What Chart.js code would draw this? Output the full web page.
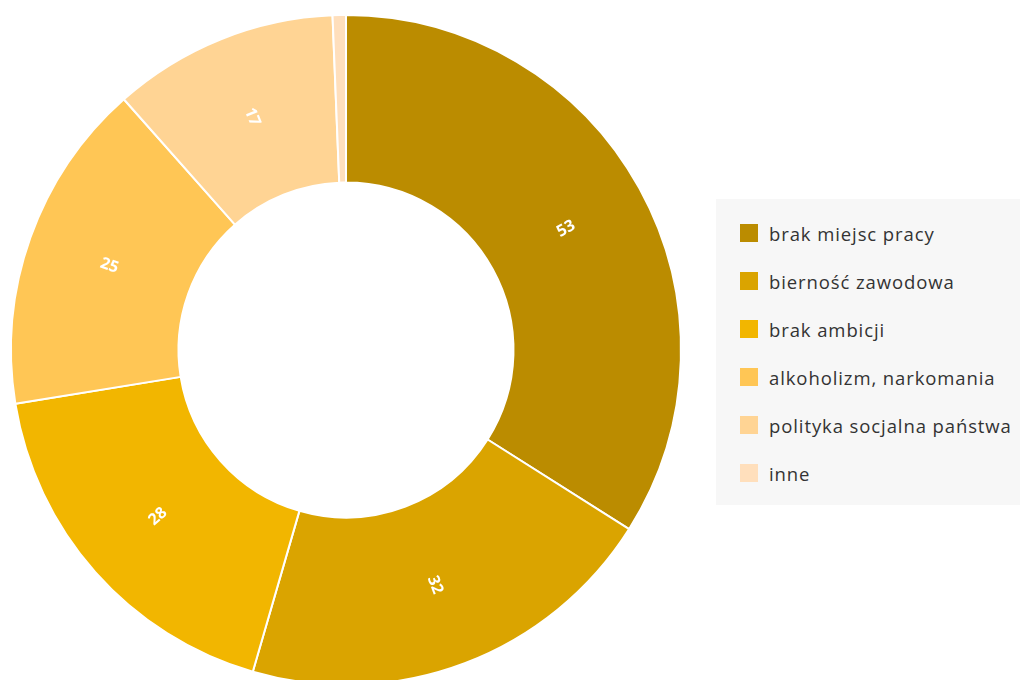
<!DOCTYPE html>
<html>
<head>
<meta charset="utf-8">
<script src="https://cdn.jsdelivr.net/npm/chart.js@4"></script>
<style>
    body { margin: 0; width: 1020px; height: 680px; overflow: hidden; background: #fff; font-family: "Open Sans", sans-serif; position: relative; }
    #chartBox { position: absolute; left: 0; top: 0; width: 692px; height: 700px; }
    #legend { position: absolute; left: 716px; top: 199px; width: 304px; height: 306px; background: #f7f7f7; box-sizing: border-box; padding-top: 16px; }
    .item { display: flex; align-items: center; height: 48px; margin-left: 24px; font-size: 18.5px; letter-spacing: 0.9px; color: #333; white-space: nowrap; }
    .item span.box { width: 18px; height: 18px; margin-right: 11px; margin-top: -12px; flex: none; }
    .item span.txt { margin-top: -12px; }
</style>
</head>
<body>
<div id="chartBox"><canvas id="donut"></canvas></div>
<div id="legend"></div>
<script>
let categories = ["brak miejsc pracy", "bierność zawodowa", "brak ambicji", "alkoholizm, narkomania", "polityka socjalna państwa", "inne"];
let values = [53, 32, 28, 25, 17, 1];
let colors = ["#bb8c00", "#daa400", "#f2b600", "#ffc655", "#ffd494", "#ffdfbc"];

// labels rotated along the radius, skip tiny slices
const sliceLabels = {
    id: "sliceLabels",
    afterDatasetsDraw(chart) {
        const ctx = chart.ctx;
        const meta = chart.getDatasetMeta(0);
        meta.data.forEach((arc, i) => {
            if (values[i] < 5) return;
            const pos = arc.tooltipPosition();
            let a = (arc.startAngle + arc.endAngle) / 2;
            let deg = a * 180 / Math.PI;
            if (deg > 90 && deg < 270) a -= Math.PI;
            ctx.save();
            ctx.translate(pos.x, pos.y);
            ctx.rotate(a);
            ctx.fillStyle = "#fff";
            ctx.font = "bold 16px 'Open Sans', sans-serif";
            ctx.textAlign = "center";
            ctx.textBaseline = "middle";
            ctx.fillText(values[i], 0, 0);
            ctx.restore();
        });
    }
};

const ctx = document.getElementById("donut").getContext("2d");
let donutChart = new Chart(ctx, {
    type: "doughnut",
    data: {
        labels: categories,
        datasets: [{
            data: values,
            backgroundColor: colors,
            borderColor: "#fff",
            borderWidth: 2,
            hoverOffset: 0
        }]
    },
    options: {
        responsive: true,
        maintainAspectRatio: false,
        animation: false,
        cutout: "50%",
        layout: { padding: 10 },
        plugins: { legend: { display: false }, tooltip: { enabled: false } }
    },
    plugins: [sliceLabels]
});

let legendHTML = "";
categories.forEach((c, i) => {
    legendHTML += `<div class="item"><span class="box" style="background:${colors[i]}"></span><span class="txt">${c}</span></div>`;
});
document.getElementById("legend").innerHTML = legendHTML;
</script>
</body>
</html>
